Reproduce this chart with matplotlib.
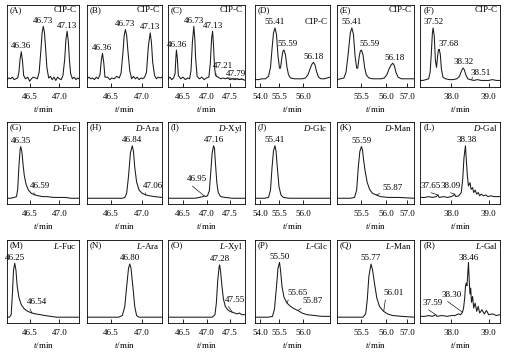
import matplotlib.pyplot as plt

plt.rcParams['font.family'] = 'Liberation Serif'
plt.rcParams['mathtext.fontset'] = 'custom'
plt.rcParams['mathtext.it'] = 'Liberation Serif:italic'
plt.rcParams['mathtext.rm'] = 'Liberation Serif'

# --- column x windows and tick labels (as printed in the original figure) ---
col_xlim = [(46.12, 47.33), (46.11, 47.32), (46.18, 47.82),
            (55.01, 56.51), (55.13, 56.58), (37.17, 39.30)]
col_ticks = [[46.5, 47.0], [46.5, 47.0], [46.5, 47.0, 47.5],
             [55.11, 55.49, 55.97], [55.58, 56.05, 56.45], [38.0, 39.0]]
col_ticklabels = [['46.5', '47.0'], ['46.5', '47.0'], ['46.5', '47.0', '47.5'],
                  ['54.0', '55.5', '56.0'], ['55.5', '56.0', '57.0'], ['38.0', '39.0']]

letters = 'ABCDEFGHIJKLMNOPQR'
samples = ['CIP-C'] * 6 + \
    [r'$D$-Fuc', r'$D$-Ara', r'$D$-Xyl', r'$D$-Glc', r'$D$-Man', r'$D$-Gal'] + \
    [r'$L$-Fuc', r'$L$-Ara', r'$L$-Xyl', r'$L$-Glc', r'$L$-Man', r'$L$-Gal']

# --- chromatogram traces: (t/min, relative signal) ---
A_trace = [(46.12, .09), (46.15, .11), (46.18, .10), (46.21, .12), (46.24, .09), (46.27, .10),
           (46.30, .11), (46.32, .18), (46.34, .34), (46.36, .43), (46.38, .32), (46.40, .14),
           (46.43, .10), (46.47, .12), (46.50, .07), (46.53, .10), (46.56, .12), (46.60, .11),
           (46.63, .10), (46.66, .18), (46.69, .45), (46.71, .66), (46.73, .74), (46.75, .66),
           (46.77, .46), (46.79, .24), (46.82, .11), (46.85, .13), (46.88, .09), (46.91, .12),
           (46.94, .08), (46.97, .12), (47.00, .10), (47.03, .09), (47.06, .14), (47.09, .34),
           (47.11, .58), (47.13, .68), (47.15, .56), (47.17, .32), (47.19, .16), (47.22, .10),
           (47.25, .12), (47.28, .09), (47.31, .11), (47.33, .10)]
B_trace = [(46.11, .10), (46.14, .12), (46.17, .10), (46.20, .11), (46.23, .09), (46.26, .12),
           (46.29, .10), (46.32, .15), (46.34, .32), (46.36, .41), (46.38, .30), (46.40, .12),
           (46.44, .12), (46.48, .09), (46.51, .11), (46.55, .10), (46.59, .13), (46.63, .11),
           (46.66, .17), (46.69, .42), (46.71, .63), (46.73, .70), (46.75, .63), (46.77, .44),
           (46.80, .20), (46.83, .10), (46.86, .13), (46.89, .10), (46.92, .12), (46.95, .09),
           (46.98, .11), (47.01, .10), (47.04, .12), (47.07, .18), (47.10, .50), (47.13, .66),
           (47.15, .54), (47.17, .30), (47.20, .14), (47.23, .10), (47.26, .12), (47.29, .11),
           (47.32, .12)]
C_trace = [(46.18, .10), (46.22, .12), (46.26, .09), (46.30, .11), (46.33, .16), (46.35, .38),
           (46.36, .45), (46.38, .34), (46.40, .14), (46.45, .10), (46.50, .12), (46.55, .09),
           (46.60, .11), (46.64, .10), (46.67, .20), (46.70, .55), (46.73, .74), (46.75, .60),
           (46.77, .34), (46.80, .13), (46.85, .10), (46.90, .12), (46.95, .09), (47.00, .11),
           (47.05, .12), (47.08, .28), (47.11, .60), (47.13, .68), (47.15, .50), (47.17, .25),
           (47.19, .15), (47.21, .13), (47.25, .12), (47.30, .10), (47.35, .11), (47.40, .10),
           (47.45, .11), (47.50, .09), (47.55, .10), (47.60, .09), (47.65, .10), (47.70, .09),
           (47.75, .10), (47.79, .09), (47.82, .08)]
D_trace = [(55.01, .09), (55.08, .09), (55.15, .10), (55.22, .10), (55.28, .13), (55.32, .24),
           (55.35, .46), (55.38, .66), (55.41, .72), (55.44, .64), (55.47, .38), (55.50, .23),
           (55.52, .23), (55.55, .37), (55.57, .44), (55.59, .45), (55.62, .39), (55.65, .24),
           (55.68, .15), (55.72, .11), (55.80, .10), (55.88, .10), (55.96, .10), (56.02, .11),
           (56.07, .15), (56.11, .22), (56.15, .28), (56.18, .30), (56.21, .27), (56.24, .19),
           (56.28, .12), (56.33, .10), (56.40, .10), (56.45, .11), (56.51, .12)]
E_trace = [(55.13, .09), (55.20, .10), (55.26, .11), (55.30, .18), (55.34, .40), (55.38, .66),
           (55.41, .72), (55.44, .64), (55.47, .38), (55.50, .23), (55.52, .23), (55.55, .38),
           (55.57, .44), (55.59, .45), (55.62, .39), (55.65, .24), (55.68, .15), (55.73, .11),
           (55.80, .10), (55.88, .10), (55.96, .10), (56.02, .11), (56.07, .15), (56.11, .22),
           (56.15, .27), (56.18, .29), (56.21, .26), (56.24, .18), (56.28, .12), (56.34, .10),
           (56.42, .10), (56.50, .10), (56.58, .10)]
F_trace = [(37.17, .08), (37.25, .08), (37.33, .09), (37.40, .10), (37.44, .18), (37.47, .40),
           (37.50, .66), (37.52, .72), (37.55, .62), (37.58, .32), (37.61, .24), (37.64, .38),
           (37.66, .45), (37.68, .46), (37.71, .40), (37.74, .22), (37.78, .12), (37.85, .10),
           (37.95, .09), (38.05, .09), (38.15, .10), (38.22, .13), (38.27, .19), (38.30, .22),
           (38.32, .23), (38.35, .21), (38.39, .15), (38.44, .10), (38.51, .09), (38.60, .08),
           (38.70, .09), (38.80, .08), (38.90, .08), (39.00, .08), (39.10, .09), (39.20, .08),
           (39.30, .08)]
G_trace = [(46.12, .07), (46.18, .07), (46.24, .08), (46.28, .09), (46.30, .18), (46.32, .46),
           (46.34, .66), (46.35, .70), (46.37, .64), (46.39, .48), (46.41, .35), (46.44, .24),
           (46.48, .17), (46.53, .13), (46.59, .11), (46.65, .10), (46.72, .09), (46.80, .09),
           (46.90, .08), (47.00, .08), (47.10, .08), (47.20, .07), (47.33, .07)]
H_trace = [(46.11, .07), (46.20, .07), (46.30, .07), (46.40, .07), (46.50, .07), (46.60, .07),
           (46.68, .07), (46.72, .08), (46.75, .13), (46.78, .34), (46.81, .62), (46.84, .71),
           (46.86, .64), (46.88, .45), (46.91, .27), (46.95, .17), (47.00, .13), (47.06, .11),
           (47.12, .10), (47.20, .09), (47.32, .08)]
I_trace = [(46.18, .07), (46.30, .07), (46.45, .07), (46.60, .07), (46.75, .07), (46.85, .08),
           (46.92, .09), (46.95, .10), (46.98, .09), (47.02, .10), (47.06, .16), (47.09, .38),
           (47.12, .62), (47.15, .71), (47.17, .68), (47.19, .50), (47.22, .26), (47.25, .14),
           (47.30, .09), (47.40, .08), (47.55, .07), (47.70, .07), (47.82, .07)]
J_trace = [(55.01, .07), (55.10, .07), (55.20, .07), (55.28, .08), (55.32, .17), (55.35, .44),
           (55.38, .65), (55.41, .71), (55.43, .65), (55.46, .42), (55.49, .21), (55.53, .11),
           (55.58, .08), (55.70, .07), (55.90, .07), (56.10, .07), (56.30, .07), (56.51, .07)]
K_trace = [(55.13, .07), (55.25, .07), (55.38, .07), (55.46, .08), (55.50, .17), (55.53, .44),
           (55.56, .64), (55.59, .70), (55.61, .66), (55.63, .54), (55.66, .40), (55.70, .26),
           (55.75, .17), (55.80, .13), (55.87, .11), (55.95, .09), (56.10, .08), (56.30, .08),
           (56.58, .07)]
L_trace = [(37.17, .08), (37.30, .08), (37.40, .09), (37.50, .08), (37.60, .09), (37.65, .11),
           (37.68, .08), (37.80, .09), (37.90, .08), (38.00, .09), (38.05, .10), (38.09, .12),
           (38.12, .09), (38.20, .10), (38.27, .14), (38.31, .32), (38.34, .56), (38.38, .71),
           (38.40, .56), (38.43, .35), (38.46, .22), (38.50, .26), (38.53, .18), (38.57, .20),
           (38.60, .14), (38.64, .17), (38.68, .12), (38.72, .14), (38.76, .10), (38.80, .12),
           (38.86, .10), (38.92, .11), (38.98, .09), (39.05, .10), (39.15, .09), (39.30, .09)]
M_trace = [(46.12, .07), (46.16, .07), (46.19, .10), (46.21, .34), (46.23, .64), (46.25, .72),
           (46.27, .64), (46.29, .45), (46.32, .31), (46.36, .22), (46.41, .17), (46.47, .14),
           (46.54, .12), (46.60, .11), (46.68, .10), (46.76, .09), (46.85, .08), (46.95, .07),
           (47.10, .07), (47.33, .07)]
N_trace = [(46.11, .07), (46.30, .07), (46.50, .07), (46.62, .07), (46.68, .09), (46.72, .20),
           (46.75, .44), (46.78, .66), (46.80, .71), (46.82, .66), (46.85, .44), (46.88, .20),
           (46.91, .09), (46.95, .07), (47.10, .07), (47.32, .07)]
O_trace = [(46.18, .07), (46.40, .07), (46.60, .07), (46.80, .07), (47.00, .07), (47.12, .07),
           (47.18, .10), (47.21, .24), (47.24, .52), (47.27, .68), (47.28, .70), (47.30, .62),
           (47.33, .44), (47.36, .29), (47.40, .20), (47.45, .16), (47.50, .14), (47.55, .13),
           (47.60, .12), (47.65, .11), (47.70, .12), (47.75, .10), (47.82, .10)]
P_trace = [(55.01, .07), (55.15, .07), (55.28, .07), (55.36, .08), (55.40, .17), (55.44, .44),
           (55.47, .66), (55.50, .73), (55.52, .64), (55.55, .44), (55.59, .31), (55.65, .24),
           (55.72, .20), (55.80, .17), (55.87, .15), (55.95, .12), (56.05, .10), (56.20, .09),
           (56.35, .08), (56.51, .08)]
Q_trace = [(55.13, .07), (55.30, .07), (55.50, .07), (55.62, .07), (55.67, .11), (55.70, .28),
           (55.73, .56), (55.77, .71), (55.80, .64), (55.84, .46), (55.88, .30), (55.93, .20),
           (55.98, .16), (56.01, .14), (56.08, .11), (56.18, .09), (56.35, .08), (56.58, .07)]
R_trace = [(37.17, .08), (37.30, .08), (37.40, .09), (37.50, .08), (37.59, .10), (37.62, .08),
           (37.75, .09), (37.90, .08), (38.00, .09), (38.10, .09), (38.20, .11), (38.25, .10),
           (38.30, .13), (38.33, .18), (38.36, .30), (38.38, .44), (38.40, .48), (38.42, .45),
           (38.44, .58), (38.46, .73), (38.48, .52), (38.50, .35), (38.52, .42), (38.54, .25),
           (38.57, .32), (38.60, .18), (38.64, .24), (38.68, .14), (38.72, .20), (38.76, .12),
           (38.82, .16), (38.88, .11), (38.94, .15), (39.00, .10), (39.10, .11), (39.20, .09),
           (39.30, .10)]

traces = [A_trace, B_trace, C_trace, D_trace, E_trace, F_trace,
          G_trace, H_trace, I_trace, J_trace, K_trace, L_trace,
          M_trace, N_trace, O_trace, P_trace, Q_trace, R_trace]

# peak labels written above peaks: (text, x, text bottom in axes fraction)
tags = [
    [('46.36', 46.36, .45), ('46.73', 46.73, .76), ('47.13', 47.13, .70)],
    [('46.36', 46.36, .43), ('46.73', 46.73, .72), ('47.13', 47.13, .68)],
    [('46.36', 46.38, .46), ('46.73', 46.73, .76), ('47.13', 47.13, .70)],
    [('55.41', 55.41, .74), ('55.59', 55.67, .47), ('56.18', 56.18, .32)],
    [('55.41', 55.41, .74), ('55.59', 55.74, .47), ('56.18', 56.21, .31)],
    [('37.52', 37.52, .74), ('37.68', 37.92, .47), ('38.32', 38.32, .26)],
    [('46.35', 46.35, .72)],
    [('46.84', 46.84, .73)],
    [('47.16', 47.16, .73)],
    [('55.41', 55.41, .73)],
    [('55.59', 55.59, .72)],
    [('38.38', 38.40, .73)],
    [('46.25', 46.25, .74)],
    [('46.80', 46.80, .73)],
    [('47.28', 47.28, .72)],
    [('55.50', 55.50, .75)],
    [('55.77', 55.77, .73)],
    [('38.46', 38.46, .74)],
]

# minor peaks marked with a pointer line: (text, peak x, peak y, text x, text y)
notes = [
    [], [],
    [('47.21', 47.21, .13, 47.36, .25), ('47.79', 47.79, .09, 47.62, .16)],
    [], [],
    [('38.51', 38.55, .09, 38.78, .17)],
    [('46.59', 46.59, .11, 46.68, .22)],
    [('47.06', 47.06, .11, 47.18, .22)],
    [('46.95', 46.95, .10, 46.80, .30)],
    [], [('55.87', 55.87, .11, 56.18, .20)],
    [('37.65', 37.65, .11, 37.45, .22), ('38.09', 38.09, .12, 37.99, .22)],
    [('46.54', 46.54, .12, 46.62, .25)],
    [],
    [('47.55', 47.55, .13, 47.60, .28)],
    [('55.65', 55.65, .24, 55.86, .36), ('55.87', 55.87, .15, 56.17, .26)],
    [('56.01', 56.01, .14, 56.20, .36)],
    [('37.59', 37.59, .10, 37.50, .24), ('38.30', 38.30, .13, 38.02, .34)],
]

# --- layout in pixels of the 506x356 figure ---
W, H = 506, 356
col_px = [(7, 79), (87, 162), (168, 245), (255, 330), (337, 414), (420, 500)]
row_px = [(5, 87), (122, 204), (240, 323)]
fs = 6.5

fig = plt.figure(figsize=(W / 100, H / 100), dpi=100)

for i, trace in enumerate(traces):
    r, c = divmod(i, 6)
    x0, x1 = col_px[c]
    y0, y1 = row_px[r]
    ax = fig.add_axes([x0 / W, 1 - y1 / H, (x1 - x0) / W, (y1 - y0) / H])

    t, s = zip(*trace)
    ax.plot(t, s, color='#1a1a1a', lw=0.75)
    ax.set_xlim(col_xlim[c])
    ax.set_ylim(0, 1)
    ax.set_xticks(col_ticks[c], col_ticklabels[c])
    ax.set_yticks([])
    ax.tick_params(axis='x', direction='in', length=3, width=0.6, pad=4, labelsize=fs)
    for sp in ax.spines.values():
        sp.set_linewidth(0.6)
    ax.set_xlabel(r'$t$/min', fontsize=fs, labelpad=2.5)

    ax.text(0.04, 0.985, f'({letters[i]})', transform=ax.transAxes,
            ha='left', va='top', fontsize=fs)
    name_y = 0.84 if i == 3 else 0.985
    ax.text(0.97, name_y, samples[i], transform=ax.transAxes,
            ha='right', va='top', fontsize=fs)

    for lab, x, y in tags[i]:
        ax.text(x, y, lab, ha='center', va='bottom', fontsize=fs)
    for lab, px, py, tx, ty in notes[i]:
        ax.annotate(lab, xy=(px, py), xytext=(tx, ty), ha='center', va='center',
                    fontsize=fs, annotation_clip=False,
                    arrowprops=dict(arrowstyle='-', lw=0.5, color='#1a1a1a',
                                    relpos=(0.1, 0.0), shrinkA=0, shrinkB=0))

fig.savefig('out.png', dpi=100)
